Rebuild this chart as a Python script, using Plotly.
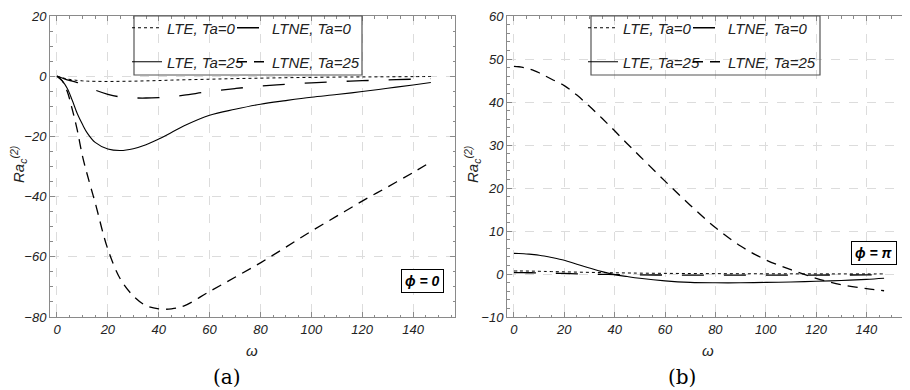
import plotly.graph_objects as go

# ---------------- data ----------------
omega = [0, 2, 4, 6, 8, 10, 12, 15, 20, 25, 30, 35, 40, 45, 50, 60, 70, 80, 90, 100, 110, 120, 130, 140, 147]

# panel (a): phi = 0
lte_ta0_a = [0, -0.5, -0.9, -1.2, -1.4, -1.55, -1.65, -1.7, -1.75, -1.7, -1.65, -1.55, -1.45, -1.3, -1.2,
             -1.0, -0.8, -0.65, -0.5, -0.4, -0.3, -0.25, -0.2, -0.15, -0.1]
ltne_ta0_a = [0, -0.6, -1.2, -1.6, -2.1, -2.8, -3.5, -4.6, -6.0, -6.9, -7.2, -7.25, -7.1, -6.8, -6.3,
              -5.1, -4.1, -3.3, -2.7, -2.2, -1.8, -1.5, -1.2, -1.0, -0.8]
lte_ta25_a = [0, -1.5, -4, -8, -12.5, -16, -19, -22, -24.2, -24.7, -24.1, -22.8, -20.9, -18.7, -16.5,
              -13.0, -11.0, -9.3, -8.1, -7.0, -6.1, -5.1, -4.0, -2.9, -2.1]
ltne_ta25_a = [0, -1.5, -5, -11, -18, -26.5, -33, -42, -57.5, -67.5, -73, -76.2, -77.3, -77.3, -76.3,
               -71.5, -66.8, -62, -56.8, -51.5, -46.5, -41.5, -36.8, -32, -28.5]

# panel (b): phi = pi
lte_ta0_b = [0.7, 0.7, 0.7, 0.68, 0.66, 0.63, 0.6, 0.56, 0.5, 0.44, 0.38, 0.33, 0.28, 0.24, 0.2,
             0.15, 0.11, 0.08, 0.06, 0.05, 0.04, 0.03, 0.02, 0.02, 0.02]
ltne_ta0_b = [0.3, 0.3, 0.3, 0.29, 0.28, 0.26, 0.24, 0.2, 0.13, 0.05, -0.02, -0.08, -0.13, -0.17, -0.2,
              -0.24, -0.26, -0.27, -0.27, -0.26, -0.25, -0.24, -0.23, -0.22, -0.21]
lte_ta25_b = [4.8, 4.78, 4.72, 4.62, 4.5, 4.35, 4.17, 3.85, 3.2, 2.25, 1.4, 0.55, -0.15, -0.6, -1.0,
              -1.6, -1.95, -2.05, -2.05, -1.95, -1.85, -1.7, -1.5, -1.25, -1.0]
ltne_ta25_b = [48.3, 48.2, 48.0, 47.7, 47.3, 46.8, 46.2, 45.3, 43.8, 41.6, 39.0, 36.2, 33.3, 30.3, 27.4,
               21.6, 16.0, 10.8, 6.5, 3.3, 1.0, -1.0, -2.5, -3.4, -3.9]

names = ["LTE, Ta=0", "LTNE, Ta=0", "LTE, Ta=25", "LTNE, Ta=25"]
x_ticks = [0, 20, 40, 60, 80, 100, 120, 140]
ya_ticks = [-80, -60, -40, -20, 0, 20]
yb_ticks = [-10, 0, 10, 20, 30, 40, 50, 60]

# ---------------- geometry ----------------
# the page body has an 8px margin; positions below are given in window pixels
OFF = 8
W, H = 910 - OFF, 390 - OFF
def px(x):
    return (x - OFF) / W
def py(y):
    return 1 - (y - OFF) / H

SANS = "Liberation Sans"
styles = [
    dict(color="black", width=1, dash="dot"),
    dict(color="black", width=1.3, dash="22px,20px"),
    dict(color="black", width=1.1, dash="solid"),
    dict(color="black", width=1.3, dash="10px,7px"),
]

fig = go.Figure()

series_a = [lte_ta0_a, ltne_ta0_a, lte_ta25_a, ltne_ta25_a]
series_b = [lte_ta0_b, ltne_ta0_b, lte_ta25_b, ltne_ta25_b]
# one legend per entry so that the 2x2 layout of the reference can be reproduced
legend_ids = ["legend", "legend2", "legend3", "legend4", "legend5", "legend6", "legend7", "legend8"]
col_x = [[127, 232], [583, 688]]      # legend left edges (px) for the two columns of each panel
row_y = [11.5, 45.5]                   # legend top edges (px) for the two rows

for p, series, xa, ya in [(0, series_a, "x", "y"), (1, series_b, "x2", "y2")]:
    for i in range(4):
        fig.add_trace(go.Scatter(x=omega, y=series[i], mode="lines", name=names[i], line=styles[i],
                                 xaxis=xa, yaxis=ya, legend=legend_ids[p * 4 + i], showlegend=True,
                                 line_shape="spline", hoverinfo="skip"))

tickfont = dict(family=SANS, size=13, color="#222", style="italic")
frame = "#8a8a8a"
def xaxis(domain, anchor):
    return dict(domain=domain, anchor=anchor, range=[-2.75, 156.5], tickvals=x_ticks,
                ticks="inside", ticklen=5, tickcolor=frame, showline=True, linecolor=frame,
                linewidth=1, mirror="ticks", showgrid=True, gridcolor="#dcdcdc", griddash="dash",
                gridwidth=1, zeroline=False, tickfont=tickfont,
                minor=dict(dtick=5, tick0=0, ticks="inside", ticklen=2.5, tickcolor=frame, showgrid=False))

def yaxis(domain, anchor, rng, vals, minor):
    return dict(domain=domain, anchor=anchor, range=rng, tickvals=vals,
                ticks="inside", ticklen=5, tickcolor=frame, showline=True, linecolor=frame,
                linewidth=1, mirror="ticks", showgrid=True, gridcolor="#dcdcdc", griddash="dash",
                gridwidth=1, zeroline=False, tickfont=tickfont,
                minor=dict(dtick=minor, tick0=0, ticks="inside", ticklen=2.5, tickcolor=frame, showgrid=False))

ydom = [py(317), py(16)]
fig.update_layout(
    width=W, height=H, margin=dict(l=0, r=0, t=0, b=0, autoexpand=False), showlegend=True,
    paper_bgcolor="white", plot_bgcolor="white",
    xaxis=xaxis([px(50), px(455)], "y"),
    yaxis=yaxis(ydom, "x", [-80, 20], ya_ticks, 5),
    xaxis2=xaxis([px(507), px(908)], "y2"),
    yaxis2=yaxis(ydom, "x2", [-10, 60], yb_ticks, 2),
)

legfont = dict(family=SANS, size=15, color="#222", style="italic")
legs = {}
for p in range(2):
    for i in range(4):
        row, col = i // 2, i % 2
        legs[legend_ids[p * 4 + i]] = dict(
            x=px(col_x[p][col]), y=py(row_y[row]), xanchor="left", yanchor="top",
            bgcolor="rgba(0,0,0,0)", borderwidth=0, font=legfont, itemwidth=30, visible=True)
fig.update_layout(**legs)

# legend frames
for (x0, x1) in [(134, 362), (591, 820)]:
    fig.add_shape(type="rect", xref="paper", yref="paper", x0=px(x0), x1=px(x1), y0=py(75), y1=py(16),
                  line=dict(color="#555", width=1.2), fillcolor="rgba(0,0,0,0)", layer="above")

anns = []
def ann(x, y, text, font, **kw):
    d = dict(x=px(x), y=py(y), xref="paper", yref="paper", showarrow=False, text=text, font=font,
             xanchor="center", yanchor="middle")
    d.update(kw)
    anns.append(d)

for xc in [19, 473]:
    ann(xc, 165, "<i>Ra</i><sub><i>c</i></sub><sup><i>(2)</i></sup>",
        dict(family=SANS, size=15, color="#222"), textangle=-90)
for xc in [252, 708]:
    ann(xc, 350, "<i>ω</i>", dict(family=SANS, size=15, color="#222"))
for xc, t in [(227, "(a)"), (682, "(b)")]:
    ann(xc, 377, t, dict(family="DejaVu Serif", size=20, color="black"))
for xc, yc, t in [(422, 281, "ϕ = 0"), (874, 253, "ϕ = π")]:
    ann(xc, yc, t, dict(family=SANS, size=14, color="black", weight="bold", style="italic"),
        bgcolor="white", bordercolor="black", borderwidth=1, borderpad=3)
fig.update_layout(annotations=anns)

fig.write_html("out.html")
